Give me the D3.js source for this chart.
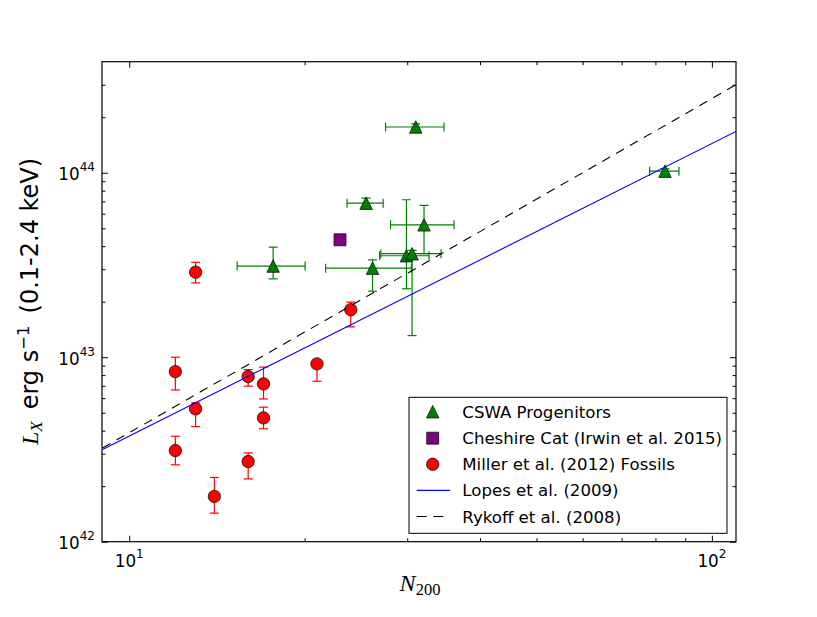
<!DOCTYPE html>
<html>
<head>
<meta charset="utf-8">
<script src="https://cdn.jsdelivr.net/npm/d3@7/dist/d3.min.js"></script>
<style>
  html, body { margin: 0; padding: 0; background: #fff; }
  svg { display: block; }
</style>
</head>
<body>
<svg id="chart" width="817" height="617"></svg>
<script>
// ---------------- DATA ----------------
// CSWA progenitors
const cswaN   = [17.66, 25.5, 31.03, 32.06, 26.16, 29.91, 30.58, 83.08];
const cswaNlo = [15.32, 23.65, 27.54, 28.08, 21.73, 26.9, 27.03, 78.2];
const cswaNhi = [20.04, 27.28, 34.7, 36.1, 30.5, 32.7, 34.29, 87.8];
const cswaL   = [3.12e43, 6.84e43, 1.77e44, 5.22e43, 3.04e43, 3.55e43, 3.64e43, 1.02e44];
const cswaLlo = [2.66e43, 6.5e43, 1.72e44, 3.64e43, 2.28e43, 2.35e43, 1.31e43, 0.99e44];
const cswaLhi = [3.95e43, 7.28e43, 1.84e44, 6.65e43, 3.37e43, 7.14e43, 3.8e43, 1.05e44];

// Cheshire Cat
const cheshireN = [23.0];
const cheshireL = [4.33e43];

// Miller et al. (2012) fossils
const fossilN   = [13, 12, 13, 12, 14, 16, 17, 17, 16, 21, 24];
const fossilL   = [2.89e43, 8.36e42, 5.25e42, 3.12e42, 1.76e42, 7.86e42, 7.17e42, 4.69e42, 2.72e42, 9.2e42, 1.81e43];
const fossilLlo = [2.53e43, 6.65e42, 4.21e42, 2.61e42, 1.43e42, 6.97e42, 5.94e42, 4.09e42, 2.19e42, 7.41e42, 1.46e43];
const fossilLhi = [3.27e43, 1.0e43, 5.66e42, 3.73e42, 2.23e42, 8.57e42, 8.84e42, 5.36e42, 3.03e42, 9.5e42, 1.99e43];

// Scaling relations (end points)
const lopesN  = [9, 110];
const lopesL  = [3.16e42, 1.675e44];
const rykoffN = [9, 110];
const rykoffL = [3.22e42, 3.0e44];

// Axis domains / legend labels
const xDomain = [8.98, 110];
const yDomain = [1e42, 4e44];
const legendLabels = ["CSWA Progenitors", "Cheshire Cat (Irwin et al. 2015)", "Miller et al. (2012) Fossils", "Lopes et al. (2009)", "Rykoff et al. (2008)"];

// ---------------- LAYOUT ----------------
const plot = { left: 102, right: 736, top: 61.7, bottom: 541.7 };
const svg = d3.select("#chart");
svg.append("rect").attr("width", 817).attr("height", 617).attr("fill", "#fff");

const x = d3.scaleLog().domain(xDomain).range([plot.left, plot.right]);
const y = d3.scaleLog().domain(yDomain).range([plot.bottom, plot.top]);

const SANS = "'DejaVu Sans', sans-serif";
const SERIF = "'Liberation Serif', 'DejaVu Serif', serif";

svg.append("clipPath").attr("id", "clip").append("rect")
  .attr("x", plot.left).attr("y", plot.top)
  .attr("width", plot.right - plot.left).attr("height", plot.bottom - plot.top);

const g = svg.append("g").attr("clip-path", "url(#clip)");

// custom matplotlib-like triangle marker
const triType = { draw(ctx, size) { const h = Math.sqrt(size) / 2; ctx.moveTo(0, -h); ctx.lineTo(h, h); ctx.lineTo(-h, h); ctx.closePath(); } };
const triPath = d3.symbol().type(triType).size(12.5 * 12.5);
const sqPath = d3.symbol().type(d3.symbolSquare).size(12 * 12);

const cap = 4.5;
function errBars(sel, data, color) {
  data.forEach(d => {
    if (d.lo != null) {
      sel.append("line").attr("x1", x(d.n)).attr("x2", x(d.n)).attr("y1", y(d.lo)).attr("y2", y(d.hi))
        .attr("stroke", color).attr("stroke-width", 1.2);
      [d.lo, d.hi].forEach(v => sel.append("line").attr("x1", x(d.n) - cap).attr("x2", x(d.n) + cap)
        .attr("y1", y(v)).attr("y2", y(v)).attr("stroke", color).attr("stroke-width", 1.2));
    }
    if (d.nlo != null) {
      sel.append("line").attr("x1", x(d.nlo)).attr("x2", x(d.nhi)).attr("y1", y(d.l)).attr("y2", y(d.l))
        .attr("stroke", color).attr("stroke-width", 1.2);
      [d.nlo, d.nhi].forEach(v => sel.append("line").attr("x1", x(v)).attr("x2", x(v))
        .attr("y1", y(d.l) - cap).attr("y2", y(d.l) + cap).attr("stroke", color).attr("stroke-width", 1.2));
    }
  });
}

// CSWA
const cswa = cswaN.map((n, i) => ({ n, l: cswaL[i], lo: cswaLlo[i], hi: cswaLhi[i], nlo: cswaNlo[i], nhi: cswaNhi[i] }));
const gC = g.append("g");
errBars(gC, cswa, "#008000");
gC.selectAll("path.tri").data(cswa).join("path").attr("class", "tri")
  .attr("d", triPath).attr("transform", d => `translate(${x(d.n)},${y(d.l)})`)
  .attr("fill", "#008000").attr("stroke", "#000").attr("stroke-width", 0.7);

// Cheshire
const ches = cheshireN.map((n, i) => ({ n, l: cheshireL[i] }));
g.append("g").selectAll("path").data(ches).join("path")
  .attr("d", sqPath).attr("transform", d => `translate(${x(d.n)},${y(d.l)})`)
  .attr("fill", "#800080").attr("stroke", "#000").attr("stroke-width", 0.7);

// Fossils
const fos = fossilN.map((n, i) => ({ n, l: fossilL[i], lo: fossilLlo[i], hi: fossilLhi[i] }));
const gF = g.append("g");
errBars(gF, fos, "#ff0000");
gF.selectAll("circle").data(fos).join("circle")
  .attr("cx", d => x(d.n)).attr("cy", d => y(d.l)).attr("r", 6.2)
  .attr("fill", "#ff0000").attr("stroke", "#000").attr("stroke-width", 0.7);

// Lines
const line = d3.line().x(d => x(d[0])).y(d => y(d[1]));
g.append("path").datum(lopesN.map((n, i) => [n, lopesL[i]])).attr("d", line)
  .attr("fill", "none").attr("stroke", "#0000ff").attr("stroke-width", 1.1);
g.append("path").datum(rykoffN.map((n, i) => [n, rykoffL[i]])).attr("d", line)
  .attr("fill", "none").attr("stroke", "#000").attr("stroke-width", 1.1).attr("stroke-dasharray", "9,7");

// ---------------- AXES ----------------
const isMajor = v => Math.abs(Math.log10(v) - Math.round(Math.log10(v))) < 1e-9;
const inRange = (s, v) => { const p = s(v); const r = s.range(); return p > Math.min(...r) + 1 && p < Math.max(...r) - 1; };
const xt = x.ticks().filter(v => inRange(x, v));
const yt = y.ticks().filter(v => inRange(y, v) || isMajor(v));
const xMaj = xt.filter(isMajor), xMin = xt.filter(v => !isMajor(v));
const yMaj = yt.filter(isMajor), yMin = yt.filter(v => !isMajor(v));

function tickAxis(gen, vals, len, transform) {
  const a = svg.append("g").attr("transform", transform)
    .call(gen.tickValues(vals).tickSize(-len).tickSizeOuter(0).tickFormat(""));
  a.select(".domain").remove();
  a.selectAll("line").attr("stroke", "#000").attr("stroke-width", 1);
  return a;
}
tickAxis(d3.axisBottom(x), xMaj, 6, `translate(0,${plot.bottom})`);
tickAxis(d3.axisBottom(x), xMin, 3.5, `translate(0,${plot.bottom})`);
tickAxis(d3.axisTop(x), xMaj, 6, `translate(0,${plot.top})`);
tickAxis(d3.axisTop(x), xMin, 3.5, `translate(0,${plot.top})`);
tickAxis(d3.axisLeft(y), yMaj, 6, `translate(${plot.left},0)`);
tickAxis(d3.axisLeft(y), yMin, 3.5, `translate(${plot.left},0)`);
tickAxis(d3.axisRight(y), yMaj, 6, `translate(${plot.right},0)`);
tickAxis(d3.axisRight(y), yMin, 3.5, `translate(${plot.right},0)`);

svg.append("rect").attr("x", plot.left).attr("y", plot.top)
  .attr("width", plot.right - plot.left).attr("height", plot.bottom - plot.top)
  .attr("fill", "none").attr("stroke", "#000").attr("stroke-width", 1.2);

// tick labels
const tickFont = 16.8, supFont = 12;
xMaj.forEach(v => {
  const t = svg.append("text").attr("x", x(v)).attr("y", plot.bottom + 25)
    .attr("text-anchor", "middle").attr("font-family", SANS).attr("font-size", tickFont).attr("fill", "#000");
  t.append("tspan").text("10");
  t.append("tspan").attr("dy", -9).attr("font-size", supFont).text(Math.round(Math.log10(v)));
});
yMaj.forEach(v => {
  const t = svg.append("text").attr("x", 95).attr("y", y(v) + 7.5)
    .attr("text-anchor", "end").attr("font-family", SANS).attr("font-size", tickFont).attr("fill", "#000");
  t.append("tspan").text("10");
  t.append("tspan").attr("dy", -9).attr("font-size", supFont).text(Math.round(Math.log10(v)));
});

// axis titles
const xl = svg.append("text").attr("x", 420).attr("y", 591).attr("text-anchor", "middle").attr("fill", "#000");
xl.append("tspan").attr("font-family", SERIF).attr("font-style", "italic").attr("font-size", 24).text("N");
xl.append("tspan").attr("font-family", SERIF).attr("font-size", 16.5).attr("dy", 4).text("200");

const yl = svg.append("text").attr("transform", "translate(38,301.5) rotate(-90)")
  .attr("text-anchor", "middle").attr("fill", "#000").attr("font-size", 24);
yl.append("tspan").attr("font-family", SERIF).attr("font-style", "italic").text("L");
yl.append("tspan").attr("font-family", SERIF).attr("font-style", "italic").attr("font-size", 17).attr("dy", 4).text("X");
yl.append("tspan").attr("font-family", SANS).attr("dy", -4).text("\u2002erg s");
yl.append("tspan").attr("font-family", SANS).attr("font-size", 16.5).attr("dy", -9).text("\u22121");
yl.append("tspan").attr("font-family", SANS).attr("dy", 9).text("\u2002(0.1-2.4 keV)");

// ---------------- LEGEND ----------------
const lg = svg.append("g");
lg.append("rect").attr("x", 409).attr("y", 397.3).attr("width", 318).attr("height", 136)
  .attr("fill", "#fff").attr("stroke", "#000").attr("stroke-width", 1);
const rowY = [411.7, 438.2, 464.3, 490.4, 516.5];
const hx = 432.7;
lg.append("path").attr("d", triPath).attr("transform", `translate(${hx},${rowY[0]})`)
  .attr("fill", "#008000").attr("stroke", "#000").attr("stroke-width", 0.7);
lg.append("path").attr("d", sqPath).attr("transform", `translate(${hx},${rowY[1]})`)
  .attr("fill", "#800080").attr("stroke", "#000").attr("stroke-width", 0.7);
lg.append("circle").attr("cx", hx).attr("cy", rowY[2]).attr("r", 6.2)
  .attr("fill", "#ff0000").attr("stroke", "#000").attr("stroke-width", 0.7);
lg.append("line").attr("x1", 416.7).attr("x2", 450).attr("y1", rowY[3]).attr("y2", rowY[3])
  .attr("stroke", "#0000ff").attr("stroke-width", 1.1);
lg.append("line").attr("x1", 416.7).attr("x2", 450).attr("y1", rowY[4]).attr("y2", rowY[4])
  .attr("stroke", "#000").attr("stroke-width", 1.1).attr("stroke-dasharray", "10,6.7");
legendLabels.forEach((s, i) => {
  lg.append("text").attr("x", 462.3).attr("y", rowY[i] + 6).attr("font-family", SANS)
    .attr("font-size", 16.6).attr("fill", "#000").text(s);
});
</script>
</body>
</html>
